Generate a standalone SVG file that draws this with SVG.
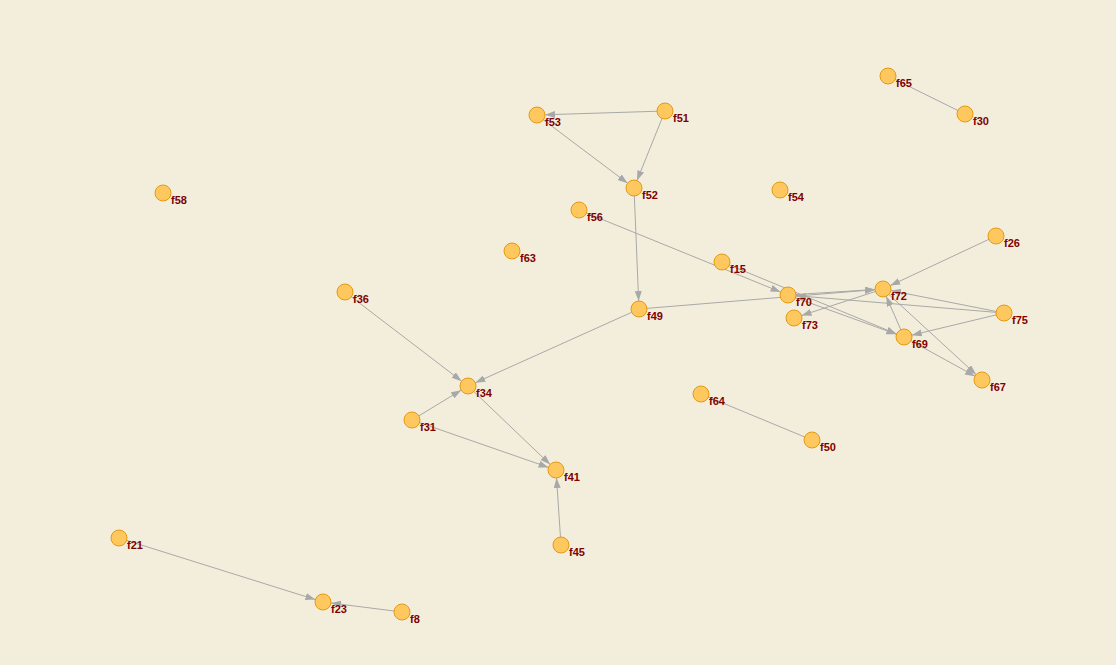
<svg xmlns="http://www.w3.org/2000/svg" width="1116" height="665" viewBox="0 0 1116 665">
<style>
.bg{fill:#F3EEDC}
.e{stroke:#A8A8A8;stroke-width:1;fill:none}
.a{marker-end:url(#arr)}
.n circle{fill:#FFC85E;stroke:#E39A12;stroke-width:1}
.n text{font-family:"Liberation Sans",Arial,sans-serif;font-weight:bold;font-size:11px;fill:#800000}
</style>
<defs>
<marker id="arr" markerUnits="userSpaceOnUse" markerWidth="10" markerHeight="8" refX="10" refY="3.5" orient="auto">
<path d="M0,0 L10,3.5 L0,7 z" fill="#A8A8A8"/>
</marker>
</defs>
<rect class="bg" x="0" y="0" width="1116" height="665"/>
<g id="edges">
<line class="e a" x1="665" y1="111" x2="545" y2="114.75"/>
<line class="e a" x1="665" y1="111" x2="636.99" y2="180.58"/>
<line class="e a" x1="537" y1="115" x2="627.61" y2="183.19"/>
<line class="e a" x1="634" y1="188" x2="638.67" y2="301.01"/>
<line class="e a" x1="639" y1="309" x2="475.3" y2="382.71"/>
<line class="e a" x1="345" y1="292" x2="461.64" y2="381.14"/>
<line class="e a" x1="412" y1="420" x2="461.16" y2="390.15"/>
<line class="e a" x1="468" y1="386" x2="550.21" y2="464.48"/>
<line class="e a" x1="412" y1="420" x2="548.44" y2="467.38"/>
<line class="e a" x1="561" y1="545" x2="556.53" y2="477.98"/>
<line class="e a" x1="119" y1="538" x2="315.37" y2="599.61"/>
<line class="e a" x1="402" y1="612" x2="330.94" y2="603"/>
<line class="e" x1="888" y1="76" x2="965" y2="114"/>
<line class="e" x1="701" y1="394" x2="812" y2="440"/>
<line class="e a" x1="579" y1="210" x2="780.59" y2="291.99"/>
<line class="e a" x1="722" y1="262" x2="896.6" y2="333.95"/>
<line class="e a" x1="788" y1="295" x2="896.48" y2="334.28"/>
<line class="e a" x1="639" y1="309" x2="875.03" y2="289.65"/>
<line class="e a" x1="788" y1="295" x2="875.02" y2="289.5"/>
<line class="e a" x1="1004" y1="313" x2="795.97" y2="295.66"/>
<line class="e a" x1="883" y1="289" x2="801.61" y2="315.52"/>
<line class="e a" x1="996" y1="236" x2="890.24" y2="285.6"/>
<line class="e a" x1="904" y1="337" x2="886.21" y2="296.33"/>
<line class="e a" x1="883" y1="289" x2="976.11" y2="374.59"/>
<line class="e a" x1="904" y1="337" x2="974.99" y2="376.14"/>
<line class="e a" x1="1004" y1="313" x2="911.78" y2="335.13"/>
<line class="e a" x1="1004" y1="313" x2="890.85" y2="290.56"/>
</g>
<g id="f65" class="n"><circle cx="888" cy="76" r="8"/><text x="896" y="87">f65</text></g>
<g id="f30" class="n"><circle cx="965" cy="114" r="8"/><text x="973" y="125">f30</text></g>
<g id="f51" class="n"><circle cx="665" cy="111" r="8"/><text x="673" y="122">f51</text></g>
<g id="f53" class="n"><circle cx="537" cy="115" r="8"/><text x="545" y="126">f53</text></g>
<g id="f52" class="n"><circle cx="634" cy="188" r="8"/><text x="642" y="199">f52</text></g>
<g id="f54" class="n"><circle cx="780" cy="190" r="8"/><text x="788" y="201">f54</text></g>
<g id="f58" class="n"><circle cx="163" cy="193" r="8"/><text x="171" y="204">f58</text></g>
<g id="f56" class="n"><circle cx="579" cy="210" r="8"/><text x="587" y="221">f56</text></g>
<g id="f63" class="n"><circle cx="512" cy="251" r="8"/><text x="520" y="262">f63</text></g>
<g id="f36" class="n"><circle cx="345" cy="292" r="8"/><text x="353" y="303">f36</text></g>
<g id="f49" class="n"><circle cx="639" cy="309" r="8"/><text x="647" y="320">f49</text></g>
<g id="f15" class="n"><circle cx="722" cy="262" r="8"/><text x="730" y="273">f15</text></g>
<g id="f70" class="n"><circle cx="788" cy="295" r="8"/><text x="796" y="306">f70</text></g>
<g id="f73" class="n"><circle cx="794" cy="318" r="8"/><text x="802" y="329">f73</text></g>
<g id="f72" class="n"><circle cx="883" cy="289" r="8"/><text x="891" y="300">f72</text></g>
<g id="f26" class="n"><circle cx="996" cy="236" r="8"/><text x="1004" y="247">f26</text></g>
<g id="f75" class="n"><circle cx="1004" cy="313" r="8"/><text x="1012" y="324">f75</text></g>
<g id="f69" class="n"><circle cx="904" cy="337" r="8"/><text x="912" y="348">f69</text></g>
<g id="f67" class="n"><circle cx="982" cy="380" r="8"/><text x="990" y="391">f67</text></g>
<g id="f34" class="n"><circle cx="468" cy="386" r="8"/><text x="476" y="397">f34</text></g>
<g id="f31" class="n"><circle cx="412" cy="420" r="8"/><text x="420" y="431">f31</text></g>
<g id="f41" class="n"><circle cx="556" cy="470" r="8"/><text x="564" y="481">f41</text></g>
<g id="f45" class="n"><circle cx="561" cy="545" r="8"/><text x="569" y="556">f45</text></g>
<g id="f64" class="n"><circle cx="701" cy="394" r="8"/><text x="709" y="405">f64</text></g>
<g id="f50" class="n"><circle cx="812" cy="440" r="8"/><text x="820" y="451">f50</text></g>
<g id="f21" class="n"><circle cx="119" cy="538" r="8"/><text x="127" y="549">f21</text></g>
<g id="f23" class="n"><circle cx="323" cy="602" r="8"/><text x="331" y="613">f23</text></g>
<g id="f8" class="n"><circle cx="402" cy="612" r="8"/><text x="410" y="623">f8</text></g>
</svg>
